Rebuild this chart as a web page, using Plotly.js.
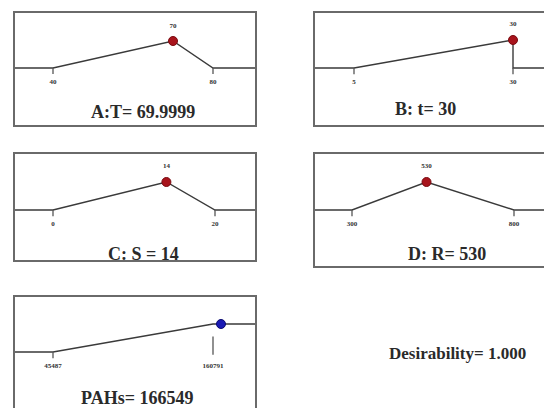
<!DOCTYPE html>
<html>
<head>
<meta charset="utf-8">
<script src="https://cdn.plot.ly/plotly-3.0.1.min.js"></script>
<style>html,body{margin:0;padding:0;background:#fff;}#chart{width:544px;height:408px;}</style>
</head>
<body>
<div id="chart"></div>
<script>
// ---- data ----
const panelTitles = ["A:T= 69.9999", "B: t= 30", "C: S = 14", "D: R= 530", "PAHs= 166549"];
const lowValues   = [40, 5, 0, 300, 45487];
const highValues  = [80, 30, 20, 800, 160791];
const optValues   = [70, 30, 14, 530, 166549];
const optLabels   = ["70", "30", "14", "530", ""];
const lowLabels   = ["40", "5", "0", "300", "45487"];
const highLabels  = ["80", "30", "20", "800", "160791"];
const kinds       = ["factor", "factor", "factor", "factor", "response"];
const desirabilityText = "Desirability= 1.000";

// ---- layout geometry (pixels) ----
const W = 544, H = 408;
const geom = [
  {fx:[14,256], fy:[12,126], px:[53,213], py:[68,41], title:[143,112]},
  {fx:[314,556], fy:[12,126], px:[354,513], py:[68,40], title:[425,109]},
  {fx:[14,256], fy:[153,261], px:[53,215], py:[210,182], title:[143,254]},
  {fx:[314,556], fy:[153,267], px:[352,514], py:[210,182], title:[447,254]},
  {fx:[14,256], fy:[296,430], px:[53,213], py:[352,324], title:[137,398]}
];
const lineColor = "#3a3a3a";
const frameColor = "#6a6a6a";
const serif = "Liberation Serif, Times New Roman, serif";

function lin(dA, pA, dB, pB, p) { return dA + (p - pA) * (dB - dA) / (pB - pA); }
const clampX = p => Math.max(0, Math.min(W, p));
const clampY = p => Math.max(0, Math.min(H, p));

const traces = [];
const layout = {
  width: W, height: H, margin: {l:0, r:0, t:0, b:0},
  paper_bgcolor: "#fff", plot_bgcolor: "rgba(0,0,0,0)",
  showlegend: false, shapes: [], annotations: []
};

geom.forEach((g, i) => {
  const n = i + 1;
  const xa = "x" + (n === 1 ? "" : n), ya = "y" + (n === 1 ? "" : n);
  const xk = "xaxis" + (n === 1 ? "" : n), yk = "yaxis" + (n === 1 ? "" : n);
  const lo = lowValues[i], hi = highValues[i], v = optValues[i];
  const x0 = clampX(g.fx[0]), x1 = clampX(g.fx[1]);
  const y0 = clampY(g.fy[0]), y1 = clampY(g.fy[1]);
  layout[xk] = {domain:[x0/W, x1/W], range:[lin(lo,g.px[0],hi,g.px[1],x0), lin(lo,g.px[0],hi,g.px[1],x1)],
    visible:false, anchor: ya, fixedrange:true};
  layout[yk] = {domain:[1 - y1/H, 1 - y0/H], range:[lin(0,g.py[0],1,g.py[1],y1), lin(0,g.py[0],1,g.py[1],y0)],
    visible:false, anchor: xa, fixedrange:true};
  const span = (hi - lo) * 10;
  let lx, ly;
  if (kinds[i] === "factor") {
    lx = [lo - span, lo, v, hi, hi + span];
    ly = [0, 0, 1, 0, 0];
  } else {
    lx = [lo - span, lo, hi, hi + span];
    ly = [0, 0, 1, 1];
  }
  traces.push({type:"scatter", mode:"lines", x:lx, y:ly, xaxis:xa, yaxis:ya,
    line:{color:lineColor, width:1.4}, hoverinfo:"skip"});
  // ticks
  const tx = [lo, lo, null, hi, hi];
  const ty = kinds[i] === "factor" ? [0, -0.22, null, 0, -0.22] : [0, -0.22, null, -0.1, 0.55];
  traces.push({type:"scatter", mode:"lines", x:tx, y:ty, xaxis:xa, yaxis:ya,
    line:{color:"#555", width:1.3}, hoverinfo:"skip"});
  // tick labels
  traces.push({type:"scatter", mode:"text", x:[lo, hi], y:[-0.52, -0.52], text:[lowLabels[i], highLabels[i]],
    textfont:{family:serif, size:7, color:"#333", weight:"bold"}, xaxis:xa, yaxis:ya, hoverinfo:"skip"});
  if (optLabels[i]) {
    traces.push({type:"scatter", mode:"text", x:[v], y:[1.55], text:[optLabels[i]],
      textfont:{family:serif, size:7, color:"#333", weight:"bold"}, xaxis:xa, yaxis:ya, hoverinfo:"skip"});
  }
  // point
  traces.push({type:"scatter", mode:"markers", x:[v], y:[1], xaxis:xa, yaxis:ya,
    marker:{size:9, color: kinds[i] === "factor" ? "#a8141c" : "#1a1ab4",
      line:{color: kinds[i] === "factor" ? "#7a0a10" : "#0a0a70", width:1}}, hoverinfo:"skip", cliponaxis:false});
  // frame
  layout.shapes.push({type:"rect", xref:"paper", yref:"paper",
    x0:g.fx[0]/W, x1:g.fx[1]/W, y0:1 - g.fy[1]/H, y1:1 - g.fy[0]/H,
    line:{color:frameColor, width:2}, fillcolor:"rgba(0,0,0,0)"});
  // title
  layout.annotations.push({xref:"paper", yref:"paper", x:g.title[0]/W, y:1 - g.title[1]/H,
    text:"<b>" + panelTitles[i] + "</b>", showarrow:false, xanchor:"center", yanchor:"middle",
    font:{family:serif, size:18, color:"#2a2a2a"}});
});

layout.annotations.push({xref:"paper", yref:"paper", x:457/W, y:1 - 353/H,
  text:"<b>" + desirabilityText + "</b>", showarrow:false, xanchor:"center", yanchor:"middle",
  font:{family:serif, size:17, color:"#2a2a2a"}});

Plotly.newPlot("chart", traces, layout, {staticPlot:true, displayModeBar:false});
</script>
</body>
</html>
